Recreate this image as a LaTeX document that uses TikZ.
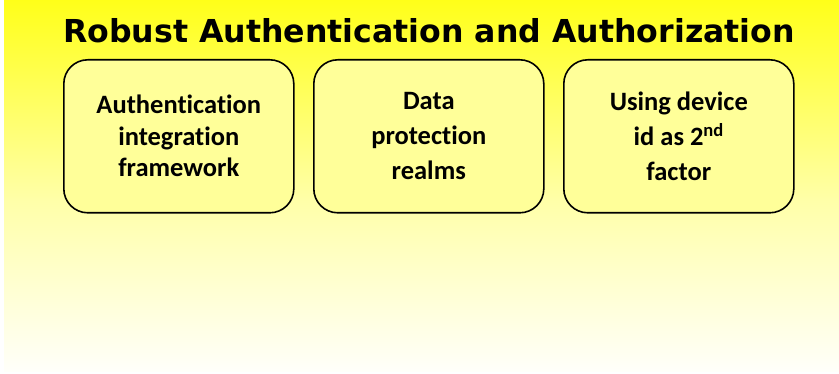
\documentclass[tikz,border=0pt]{standalone}
\usepackage{fontspec}
\setmainfont{Carlito}[RawFeature=-liga]
\newfontfamily\titlefont{DejaVu Sans}
\begin{document}
\begin{tikzpicture}[x=1pt,y=-1pt,
  card/.style={draw=black, line width=1.6pt, fill=cardfill, rounded corners=24pt,
    minimum width=230pt, minimum height=153pt, anchor=north west, inner sep=0pt},
  cardtext/.style={align=center, font=\fontsize{26.5}{31.5}\selectfont\bfseries}]
\definecolor{cardfill}{HTML}{FFFF99}
\definecolor{topyellow}{HTML}{FFFF1A}
\definecolor{midyellow}{HTML}{FFFFA8}
\definecolor{botyellow}{HTML}{FFFFFA}
\useasboundingbox (0,0) rectangle (839,374);
\fill[white] (0,0) rectangle (839,374);
\shade[top color=topyellow, bottom color=midyellow] (4,1) rectangle (839,200);
\shade[top color=midyellow, bottom color=botyellow] (4,199.5) rectangle (839,372);
\node[font=\titlefont\fontsize{31.6}{36}\selectfont\bfseries] (title) at (429,31) {Robust Authentication and Authorization};
\node[card] (b1) at (63,59) {};
\node[card] (b2) at (313,59) {};
\node[card] (b3) at (563,59) {};
\node[cardtext] (t1) at ([yshift=0pt]b1.center) {Authentication\\integration\\framework};
\node[cardtext, font=\fontsize{26.5}{35}\selectfont\bfseries] (t2) at (b2.center) {Data\\protection\\realms};
\node[cardtext, font=\fontsize{26.5}{35}\selectfont\bfseries] (t3) at (b3.center) {Using device\\id as 2\textsuperscript{nd}\\factor};
\end{tikzpicture}
\end{document}
